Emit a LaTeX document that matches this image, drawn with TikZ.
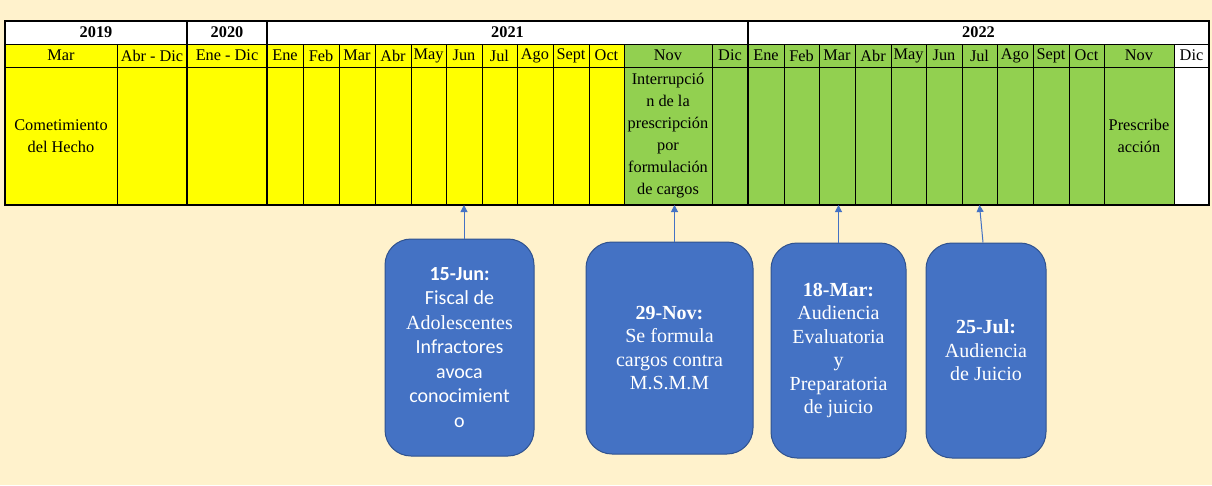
\documentclass[tikz,border=0pt]{standalone}
\usepackage{fontspec}
\setmainfont{Liberation Serif}
\newfontfamily\calib{Carlito}
\usetikzlibrary{arrows.meta}
\definecolor{paper}{HTML}{FFF2CC}
\definecolor{yl}{HTML}{FFFF00}
\definecolor{gr}{HTML}{92D050}
\definecolor{boxblue}{HTML}{4472C4}
\definecolor{boxedge}{HTML}{2F528F}
\tikzset{
  ycell/.style={draw, fill=white, line width=1pt, inner sep=0pt, outer sep=0pt, minimum height=23pt, font=\fontsize{16.3}{22}\selectfont\bfseries},
  mcell/.style={draw, line width=1pt, inner sep=0pt, outer sep=0pt, minimum height=23pt, font=\fontsize{16.3}{22}\selectfont},
  bcell/.style={draw, line width=1pt, inner sep=0pt, outer sep=0pt, minimum height=138pt},
  celltext/.style={align=center, inner sep=0pt, font=\fontsize{16.3}{22}\selectfont},
  event/.style={draw=boxedge, fill=boxblue, line width=1pt, rounded corners=26pt, text=white, align=center, inner sep=0pt, font=\fontsize{20}{23.5}\selectfont},
  pointer/.style={draw=boxblue, line width=1pt, -{Triangle[width=7pt,length=7pt]}},
  yearline/.style={line width=1.6pt}
}
\begin{document}
\begin{tikzpicture}[x=1pt,y=-1pt]
    \fill[paper] (0,0) rectangle (1212,485);
    \useasboundingbox (0,0) rectangle (1212,485);
    \node[ycell, minimum width=182pt] (y2019) at (96,32.5) {2019};
    \node[ycell, minimum width=80pt] (y2020) at (227,32.5) {2020};
    \node[ycell, minimum width=481pt] (y2021) at (507.5,32.5) {2021};
    \node[ycell, minimum width=461pt] (y2022) at (978.5,32.5) {2022};
    \foreach \i/\xa/\xb/\lab/\col in {1/5/117/Mar/yl, 2/117/187/Abr - Dic/yl, 3/187/267/Ene - Dic/yl,
        4/267/303/Ene/yl, 5/303/339/Feb/yl, 6/339/375/Mar/yl, 7/375/411/Abr/yl, 8/411/446/May/yl,
        9/446/482/Jun/yl, 10/482/517/Jul/yl, 11/517/553/Ago/yl, 12/553/589/Sept/yl, 13/589/624/Oct/yl,
        14/624/712/Nov/gr, 15/712/748/Dic/gr, 16/748/784/Ene/gr, 17/784/819/Feb/gr, 18/819/855/Mar/gr,
        19/855/891/Abr/gr, 20/891/926/May/gr, 21/926/962/Jun/gr, 22/962/997/Jul/gr, 23/997/1033/Ago/gr,
        24/1033/1069/Sept/gr, 25/1069/1104/Oct/gr, 26/1104/1174/Nov/gr, 27/1174/1209/Dic/white} {
        \node[mcell, fill=\col, minimum width={\xb-\xa}] (m\i) at ({(\xa+\xb)/2},55.5) {\lab};
        \node[bcell, fill=\col, minimum width={\xb-\xa}] (b\i) at ({(\xa+\xb)/2},136) {};
    }
    \node[celltext] (t1) at (b1) {Cometimiento\\del Hecho};
    \node[celltext] (t14) at (b14) {Interrupció\\n de la\\prescripción\\por\\formulación\\de cargos};
    \node[celltext] (t26) at (b26) {Prescribe\\acción};
    \draw (y2020.north west) -- (b3.south west) [yearline];
    \draw (y2021.north west) -- (b4.south west) [yearline];
    \draw (y2022.north west) -- (b16.south west) [yearline];
    \draw (y2019.north west) rectangle (b27.south east) [yearline];
    \node[event, minimum width=149pt, minimum height=217pt, font=\fontsize{20}{24.5}\selectfont] (ev1) at (459.5,347.5)
        {{\calib\bfseries 15-Jun:}\\{\calib Fiscal de}\\Adolescentes\\{\calib Infractores}\\{\calib avoca}\\{\calib conocimient}\\{\calib o}};
    \node[event, minimum width=167pt, minimum height=212pt] (ev2) at (669.5,348)
        {\textbf{29-Nov:}\\Se formula\\cargos contra\\M.S.M.M};
    \node[event, minimum width=135pt, minimum height=215pt] (ev3) at (838.5,350.5)
        {\textbf{18-Mar:}\\Audiencia\\Evaluatoria\\y\\Preparatoria\\de juicio};
    \node[event, minimum width=120pt, minimum height=215pt] (ev4) at (986,350.5)
        {\textbf{25-Jul:}\\Audiencia\\de Juicio};
    \draw[pointer] (ev1.north -| b9.south) -- (b9.south);
    \draw[pointer] ([xshift=5pt]ev2.north) -- ([xshift=5pt]ev2.north |- b14.south);
    \draw[pointer] (ev3.north) -- (ev3.north |- b18.south);
    \draw[pointer] ([xshift=-3pt]ev4.north) -- (b22.south);
\end{tikzpicture}
\end{document}
